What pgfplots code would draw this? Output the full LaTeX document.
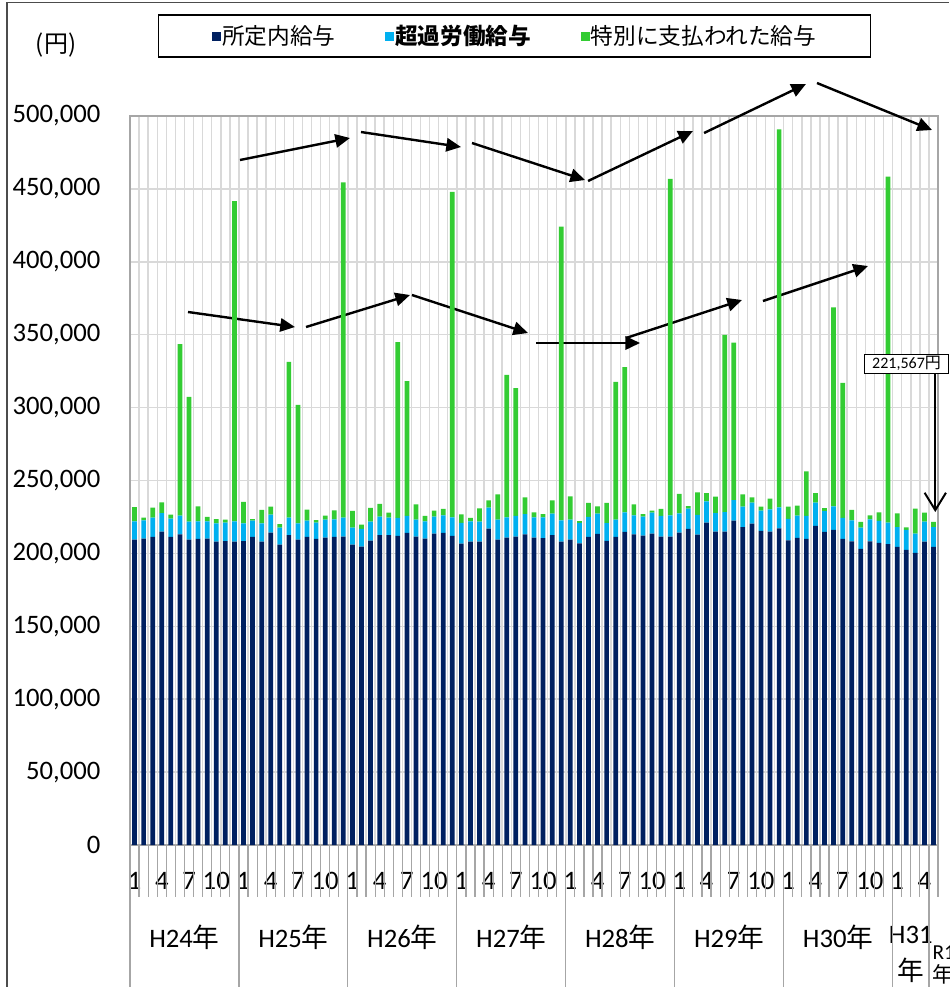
\documentclass[border=0pt]{standalone}
\usepackage{fontspec}
\setmainfont{Carlito}
\newfontfamily\cjk{Noto Sans CJK JP}
\usepackage{pgfplots}
\pgfplotsset{compat=1.18}
\usepackage{pgfplotstable}
\usetikzlibrary{arrows.meta}
\definecolor{navy}{HTML}{002060}
\definecolor{cyanb}{HTML}{00B0F0}
\definecolor{greenb}{HTML}{33CC33}
\definecolor{gridc}{HTML}{D9D9D9}
\definecolor{sepc}{HTML}{A6A6A6}
\newcommand\PX[2]{({(#1)*0.75pt},{-(#2)*0.75pt})}
\tikzset{ann/.style={line width=1.8pt,-{Triangle[length=11pt,width=10pt]}}}

\pgfplotstableread{
i n c g
0 209400 12600 9800
1 210100 12600 1800
2 211300 13200 6900
3 214900 12800 7300
4 211300 12500 2800
5 213100 12800 117700
6 209400 12400 85500
7 209900 12100 10300
8 210100 11900 3000
9 208100 12500 3000
10 208500 12600 2100
11 208100 13900 219600
12 208500 12100 14700
13 211300 11200 1100
14 208100 12500 9200
15 214200 12400 5500
16 206000 11700 2300
17 212600 11900 106800
18 209400 11200 81200
19 211300 11200 7500
20 209900 11200 1800
21 210800 12400 2700
22 211300 12100 6200
23 211500 13000 230000
24 206000 11700 11400
25 204600 12200 2900
26 208800 13000 9400
27 212600 12600 8700
28 212600 11900 3500
29 212000 12300 120600
30 214000 11700 92500
31 211500 11700 10500
32 210100 11900 3700
33 213600 11600 4100
34 214000 12100 4400
35 212000 12800 223100
36 206700 14200 5900
37 208100 13900 2300
38 208100 13700 9100
39 217000 14400 5000
40 209400 13800 17300
41 210800 14000 97600
42 211500 14200 87700
43 213100 13900 11500
44 210800 14000 3400
45 210400 14400 2200
46 212600 14700 9100
47 208100 14600 201400
48 209400 13800 16000
49 206900 14000 1300
50 211300 13800 9500
51 213400 13900 5000
52 208600 12100 13900
53 211300 11900 94400
54 214700 13500 99600
55 213100 13000 7600
56 212200 13000 1800
57 213600 14400 1300
58 211500 14200 4800
59 211500 14600 230700
60 214200 13300 13300
61 216800 13900 1800
62 212900 13500 15500
63 221100 14600 5700
64 214900 12800 11200
65 214900 13500 121400
66 222500 14100 107900
67 218100 14000 8400
68 220400 14400 3700
69 215400 13900 2800
70 214900 15300 7400
71 217100 14400 259400
72 208900 14800 8400
73 210700 15300 6800
74 209900 15800 30600
75 218800 16100 6400
76 214800 14200 2000
77 216100 16200 136500
78 209900 14400 92600
79 208300 14400 7100
80 203100 14600 3900
81 208300 15100 2700
82 207200 15100 5900
83 206300 14800 237300
84 204400 13700 9400
85 202400 13700 1800
86 200300 13300 17100
87 208100 13700 6200
88 204400 13700 3467
}\data

\begin{document}
\begin{tikzpicture}
\begin{axis}[
  at={(97.5pt,-633.75pt)}, anchor=south west,
  scale only axis, width=606pt, height=546.75pt,
  ybar stacked, bar width=0.52,
  xmin=-0.5, xmax=88.5, ymin=0, ymax=500000,
  enlargelimits=false, clip=false,
  axis line style={draw=sepc, line width=0.9pt},
  ytick={0,50000,...,500000},
  ymajorgrids, grid style={draw=gridc, line width=1.1pt},
  minor xtick={-0.5,0.5,...,88.5}, xminorgrids,
  minor grid style={draw=gridc, line width=1.1pt},
  xtick={0,3,...,87},
  xticklabels={1,4,7,10,1,4,7,10,1,4,7,10,1,4,7,10,1,4,7,10,1,4,7,10,1,4,7,10,1,4},
  major tick length=0pt, minor tick length=0pt,
  scaled y ticks=false,
  yticklabel style={/pgf/number format/fixed, /pgf/number format/1000 sep={,}, /pgf/number format/assume math mode=true,
    font=\fontsize{20}{24}\selectfont, anchor=east, inner sep=0pt, xshift=-22pt},
  xticklabel style={font=\fontsize{20}{24}\selectfont, anchor=center, inner sep=0pt, yshift=-27pt},
  legend columns=3,
  legend cell align=left,
  legend style={at={(axis description cs:0.0346,1.1097)}, anchor=west, draw=black, line width=1.1pt,
    inner xsep=40pt, inner ysep=7pt, nodes={inner sep=0.75pt},
    font=\cjk\fontsize{17}{20}\selectfont,
    /tikz/every even column/.append style={column sep=36.5pt}},
  legend image code/.code={\fill[#1] (0pt,-3.4pt) rectangle (6.75pt,3.4pt);},
]
\addplot[fill=navy, draw=none] table[x=i,y=n]{\data};
\addlegendentry{所定内給与}
\addplot[fill=cyanb, draw=none] table[x=i,y=c]{\data};
\addlegendentry{\bfseries 超過労働給与}
\addplot[fill=greenb, draw=none] table[x=i,y=g]{\data};
\addlegendentry{特別に支払われた給与}

% category separators below the axis
\pgfplotsinvokeforeach{-0.5,0.5,...,88.5}{\draw[sepc, line width=0.9pt] (axis cs:#1,0) -- ++(0pt,-39pt);}
\pgfplotsinvokeforeach{-0.5,11.5,23.5,35.5,47.5,59.5,71.5,83.5,87.5}{\draw[sepc, line width=0.9pt] (axis cs:#1,0) -- ++(0pt,-112pt);}

% year labels
\node[font=\fontsize{20}{24}\selectfont, yshift=-69pt] at (axis cs:5.5,0) {H24{\cjk 年}};
\node[font=\fontsize{20}{24}\selectfont, yshift=-69pt] at (axis cs:17.5,0) {H25{\cjk 年}};
\node[font=\fontsize{20}{24}\selectfont, yshift=-69pt] at (axis cs:29.5,0) {H26{\cjk 年}};
\node[font=\fontsize{20}{24}\selectfont, yshift=-69pt] at (axis cs:41.5,0) {H27{\cjk 年}};
\node[font=\fontsize{20}{24}\selectfont, yshift=-69pt] at (axis cs:53.5,0) {H28{\cjk 年}};
\node[font=\fontsize{20}{24}\selectfont, yshift=-69pt] at (axis cs:65.5,0) {H29{\cjk 年}};
\node[font=\fontsize{20}{24}\selectfont, yshift=-69pt] at (axis cs:77.5,0) {H30{\cjk 年}};
\node[font=\fontsize{20}{27.75}\selectfont, align=center, inner sep=0pt, yshift=-82pt] at (axis cs:85.5,0) {H31\\{\cjk 年}};
\node[font=\fontsize{16}{17.25}\selectfont, align=left, anchor=west, inner sep=0pt, yshift=-90pt, xshift=2.5pt] at (axis cs:87.5,0) {R1\\{\cjk 年}};

% trend arrows (upper)
\draw[ann] (axis cs:11.62,469821) -- (axis cs:23.73,484910);
\draw[ann] (axis cs:24.94,489025) -- (axis cs:35.96,478737);
\draw[ann] (axis cs:37.17,481481) -- (axis cs:49.62,456104);
\draw[ann] (axis cs:49.95,455418) -- (axis cs:61.51,489711);
\draw[ann] (axis cs:62.73,488339) -- (axis cs:73.96,521947);
\draw[ann] (axis cs:75.17,522633) -- (axis cs:87.84,490397);
% trend arrows (lower)
\draw[ann] (axis cs:5.89,365569) -- (axis cs:17.67,355281);
\draw[ann] (axis cs:18.89,355281) -- (axis cs:30.34,377229);
\draw[ann] (axis cs:30.56,377229) -- (axis cs:43.34,351165);
\draw[ann] (axis cs:44.22,344307) -- (axis cs:55.68,344307);
\draw[ann] (axis cs:54.13,347736) -- (axis cs:66.91,373799);
\draw[ann] (axis cs:69.22,373113) -- (axis cs:80.79,397119);

% last value callout arrow
\draw[line width=1.5pt, -{Straight Barb[length=13pt,width=16pt,line width=1.5pt]}] (axis cs:88.2,323731) -- (axis cs:88.2,228395);
\end{axis}

% last value callout box (drawn above the bars)
\node[draw=black, line width=0.75pt, fill=white, minimum width=62.5pt, minimum height=14.5pt, inner sep=1pt, font=\fontsize{12}{14}\selectfont] at \PX{906.5}{363.7} {221,567{\cjk 円}};

\node[font=\cjk\fontsize{18}{20}\selectfont] at \PX{56}{45} {(円)};
\draw[black!70, line width=0.9pt] \PX{7}{2.5} -- \PX{949}{2.5};
\draw[black!70, line width=0.9pt] \PX{7}{2.5} -- \PX{7}{987};

\pgfresetboundingbox
\path[use as bounding box] (0,0) rectangle (711.75pt,-740.25pt);
\end{tikzpicture}
\end{document}
